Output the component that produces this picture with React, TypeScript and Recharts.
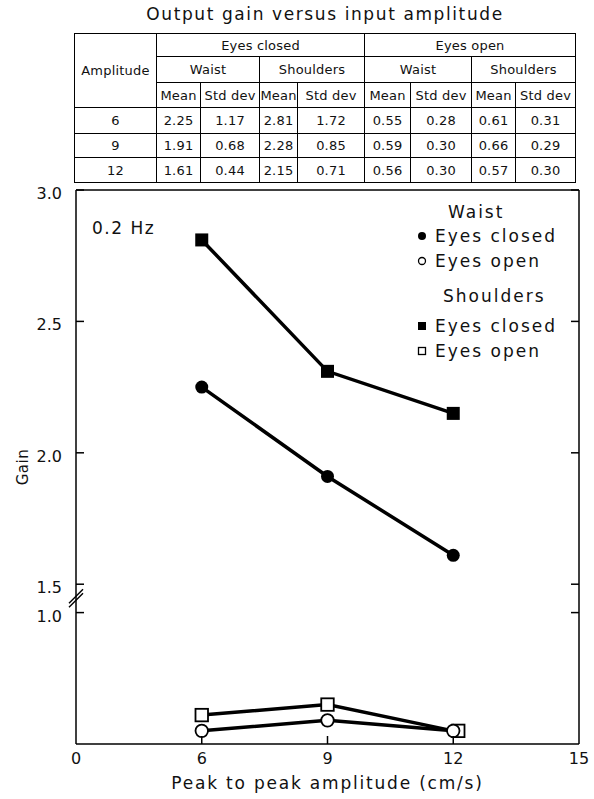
import { ComposedChart, Legend, Line, XAxis, YAxis } from 'recharts';

// amplitude (cm/s) ticks on the x axis; the figure spaces them evenly
const AMPLITUDE_TICKS = [0, 6, 9, 12, 15];
const AMPLITUDES = [6, 9, 12];

// plotted gains
const WAIST_CLOSED = [2.25, 1.91, 1.61];
const SHOULDERS_CLOSED = [2.81, 2.31, 2.15];
const WAIST_OPEN = [0.55, 0.59, 0.55];
const SHOULDERS_OPEN = [0.61, 0.65, 0.55];

const GAIN_TICKS = [3.0, 2.5, 2.0, 1.5, 1.0];
const GAIN_MIN = 0.5;
const GAIN_MAX = 3.0;

// table values, kept as printed
const TABLE_AMPLITUDES = ['6', '9', '12'];
const WAIST_CLOSED_MEAN = ['2.25', '1.91', '1.61'];
const WAIST_CLOSED_SD = ['1.17', '0.68', '0.44'];
const SHOULDERS_CLOSED_MEAN = ['2.81', '2.28', '2.15'];
const SHOULDERS_CLOSED_SD = ['1.72', '0.85', '0.71'];
const WAIST_OPEN_MEAN = ['0.55', '0.59', '0.56'];
const WAIST_OPEN_SD = ['0.28', '0.30', '0.30'];
const SHOULDERS_OPEN_MEAN = ['0.61', '0.66', '0.57'];
const SHOULDERS_OPEN_SD = ['0.31', '0.29', '0.30'];

// broken gain axis: 1.0 .. 1.5 is squeezed into a small gap
const BREAK_LOW = 1.0;
const BREAK_HIGH = 1.5;
const BREAK_GAP = 0.108;
const toAxis = (v: number) => (v >= BREAK_HIGH ? v - (BREAK_HIGH - BREAK_LOW) + BREAK_GAP : v);
const fromAxis = (u: number) =>
  u > BREAK_LOW + BREAK_GAP / 2 ? u + (BREAK_HIGH - BREAK_LOW) - BREAK_GAP : u;

const FONT = '"DejaVu Sans", sans-serif';
const INK = '#111';

type Shape = 'circle' | 'square';
type Series = {
  key: string;
  group: string;
  label: string;
  shape: Shape;
  filled: boolean;
  values: number[];
  dodgeFrom?: string;
};

const SERIES: Series[] = [
  { key: 'waistClosed', group: 'Waist', label: 'Eyes closed', shape: 'circle', filled: true, values: WAIST_CLOSED },
  { key: 'waistOpen', group: 'Waist', label: 'Eyes open', shape: 'circle', filled: false, values: WAIST_OPEN },
  { key: 'shouldersClosed', group: 'Shoulders', label: 'Eyes closed', shape: 'square', filled: true, values: SHOULDERS_CLOSED },
  {
    key: 'shouldersOpen',
    group: 'Shoulders',
    label: 'Eyes open',
    shape: 'square',
    filled: false,
    values: SHOULDERS_OPEN,
    dodgeFrom: 'waistOpen',
  },
];

const rows = AMPLITUDE_TICKS.map((amp) => {
  const i = AMPLITUDES.indexOf(amp);
  const row: Record<string, number | string | null> = { amp: String(amp) };
  for (const s of SERIES) row[s.key] = i >= 0 ? toAxis(s.values[i]) : null;
  return row;
});

function Marker({ shape, filled, cx, cy, size }: { shape: Shape; filled: boolean; cx: number; cy: number; size: number }) {
  const fill = filled ? '#000' : '#fff';
  const sw = filled ? 0 : size > 10 ? 1.8 : 1.3;
  if (shape === 'circle') return <circle cx={cx} cy={cy} r={size / 2} fill={fill} stroke="#000" strokeWidth={sw} />;
  return <rect x={cx - size / 2} y={cy - size / 2} width={size} height={size} fill={fill} stroke="#000" strokeWidth={sw} />;
}

function makeDot(s: Series) {
  return (p: any) => {
    const key = `${s.key}-${p.index}`;
    const v = p.payload?.[s.key];
    if (v == null || p.cx == null || p.cy == null) return <g key={key} />;
    // open square sits next to the open circle where they coincide
    const other = s.dodgeFrom ? p.payload?.[s.dodgeFrom] : null;
    const dx = other != null && Math.abs(v - other) < 0.02 ? 5 : 0;
    return (
      <g key={key}>
        <Marker shape={s.shape} filled={s.filled} cx={p.cx + dx} cy={p.cy} size={s.filled ? 13 : 12.5} />
      </g>
    );
  };
}

function LeftTick(props: any) {
  const { x, y, payload } = props;
  const value = fromAxis(payload.value);
  const isBreak = Math.abs(value - BREAK_HIGH) < 1e-6;
  return (
    <g>
      <line x1={x} y1={y} x2={x + 8} y2={y} stroke="#000" strokeWidth={1.5} />
      <text x={x - 14} y={y + 9} textAnchor="end" fontSize={16} fontFamily={FONT} fill={INK}>
        {value.toFixed(1)}
      </text>
      {isBreak && (
        <g stroke="#000" strokeWidth={1.5}>
          <line x1={x - 7} y1={y + 23} x2={x + 7} y2={y + 9} />
          <line x1={x - 7} y1={y + 19} x2={x + 7} y2={y + 5} />
        </g>
      )}
    </g>
  );
}

function RightTick(props: any) {
  const { x, y } = props;
  return <line x1={x} y1={y} x2={x - 8} y2={y} stroke="#000" strokeWidth={1.5} />;
}

function BottomTick(props: any) {
  const { x, y, payload } = props;
  const edge = payload.value === '0' || payload.value === '15';
  return (
    <g>
      {!edge && <line x1={x} y1={y} x2={x} y2={y - 8} stroke="#000" strokeWidth={1.5} />}
      <text x={x} y={y + 20} textAnchor="middle" fontSize={16} fontFamily={FONT} fill={INK}>
        {payload.value}
      </text>
    </g>
  );
}

const GROUPS = ['Waist', 'Shoulders'];

function LegendBox() {
  return (
    <div style={{ fontFamily: FONT, fontSize: 17, letterSpacing: 2, color: INK, width: 170 }}>
      {GROUPS.map((g, gi) => (
        <div key={g} style={{ marginTop: gi === 0 ? 0 : 10 }}>
          <div style={{ height: gi === 0 ? 24 : 30, lineHeight: '24px', paddingLeft: gi === 0 ? 31 : 26 }}>{g}</div>
          {SERIES.filter((s) => s.group === g).map((s, i) => (
            <div key={s.key} style={{ display: 'flex', alignItems: 'center', height: i === 0 ? 24 : 26, lineHeight: '24px' }}>
              <svg width={18} height={12} style={{ flex: 'none' }}>
                <Marker shape={s.shape} filled={s.filled} cx={5} cy={6} size={s.filled ? 8 : 7} />
              </svg>
              <span>{s.label}</span>
            </div>
          ))}
        </div>
      ))}
    </div>
  );
}

const cell: React.CSSProperties = {
  border: '1px solid #000',
  padding: 0,
  textAlign: 'center',
  verticalAlign: 'middle',
};

function GainTable() {
  const cols = [82, 44, 59, 38, 67, 46, 61, 44, 60];
  const data = [
    WAIST_CLOSED_MEAN,
    WAIST_CLOSED_SD,
    SHOULDERS_CLOSED_MEAN,
    SHOULDERS_CLOSED_SD,
    WAIST_OPEN_MEAN,
    WAIST_OPEN_SD,
    SHOULDERS_OPEN_MEAN,
    SHOULDERS_OPEN_SD,
  ];
  const rowH = [26, 24, 25];
  return (
    <table
      style={{
        position: 'absolute',
        left: 74,
        top: 33,
        width: 501,
        borderCollapse: 'collapse',
        tableLayout: 'fixed',
        fontFamily: FONT,
        fontSize: 13,
        letterSpacing: 0.2,
        color: INK,
        border: '1.5px solid #000',
      }}
    >
      <colgroup>
        {cols.map((w, i) => (
          <col key={i} style={{ width: w }} />
        ))}
      </colgroup>
      <tbody>
        <tr style={{ height: 23 }}>
          <td style={cell} rowSpan={3}>Amplitude</td>
          <td style={cell} colSpan={4}>Eyes closed</td>
          <td style={cell} colSpan={4}>Eyes open</td>
        </tr>
        <tr style={{ height: 26 }}>
          <td style={cell} colSpan={2}>Waist</td>
          <td style={cell} colSpan={2}>Shoulders</td>
          <td style={cell} colSpan={2}>Waist</td>
          <td style={cell} colSpan={2}>Shoulders</td>
        </tr>
        <tr style={{ height: 25 }}>
          {[0, 1, 2, 3].flatMap((k) => [
            <td key={`m${k}`} style={cell}>Mean</td>,
            <td key={`s${k}`} style={cell}>Std dev</td>,
          ])}
        </tr>
        {TABLE_AMPLITUDES.map((a, r) => (
          <tr key={a} style={{ height: rowH[r] }}>
            <td style={cell}>{a}</td>
            {data.map((col, c) => (
              <td key={c} style={cell}>{col[r]}</td>
            ))}
          </tr>
        ))}
      </tbody>
    </table>
  );
}

export default function App() {
  const gainDomain = [toAxis(GAIN_MIN), toAxis(GAIN_MAX)];
  const gainTicks = GAIN_TICKS.map(toAxis);
  const axisLine = { stroke: '#000', strokeWidth: 1.5 };

  return (
    <div style={{ position: 'absolute', left: 0, top: 0, width: 594, height: 799, background: '#fff', overflow: 'hidden' }}>
      <ComposedChart width={594} height={799} data={rows} margin={{ top: 189, right: 14, bottom: 0, left: 16 }}>
        <XAxis
          dataKey="amp"
          type="category"
          scale="point"
          padding={{ left: 0, right: 0 }}
          interval={0}
          height={55}
          axisLine={axisLine}
          tickLine={false}
          tickSize={0}
          tickMargin={0}
          tick={BottomTick}
          label={{
            value: 'Peak to peak amplitude (cm/s)',
            position: 'insideBottom',
            offset: 10,
            fontSize: 17,
            fontFamily: FONT,
            fill: INK,
            letterSpacing: 1.8,
          }}
        />
        <XAxis
          xAxisId="top"
          orientation="top"
          dataKey="amp"
          type="category"
          scale="point"
          padding={{ left: 0, right: 0 }}
          height={1}
          axisLine={axisLine}
          tickLine={false}
          tick={false}
        />
        <YAxis
          type="number"
          domain={gainDomain}
          allowDataOverflow
          ticks={gainTicks}
          interval={0}
          width={60}
          axisLine={axisLine}
          tickLine={false}
          tickSize={0}
          tickMargin={0}
          tick={LeftTick}
          label={{
            value: 'Gain',
            angle: -90,
            position: 'insideLeft',
            offset: 7,
            fontSize: 15,
            fontFamily: FONT,
            fill: INK,
            letterSpacing: 0.5,
            style: { textAnchor: 'middle' },
          }}
        />
        <YAxis
          yAxisId="right"
          orientation="right"
          type="number"
          domain={gainDomain}
          allowDataOverflow
          ticks={gainTicks}
          interval={0}
          width={1}
          axisLine={axisLine}
          tickLine={false}
          tickSize={0}
          tickMargin={0}
          tick={RightTick}
        />
        <Legend
          layout="horizontal"
          verticalAlign="middle"
          align="center"
          content={() => <LegendBox />}
          wrapperStyle={{ left: 417, top: 200, width: 170 }}
        />
        {/* invisible copy on the top/right axes so the frame axes get a scale */}
        <Line
          xAxisId="top"
          yAxisId="right"
          dataKey="waistClosed"
          stroke="none"
          dot={false}
          activeDot={false}
          legendType="none"
          isAnimationActive={false}
        />
        {[SERIES[3], SERIES[1], SERIES[2], SERIES[0]].map((s) => (
          <Line
            key={s.key}
            dataKey={s.key}
            name={`${s.group} ${s.label}`}
            type="linear"
            stroke="#000"
            strokeWidth={3.5}
            dot={makeDot(s)}
            activeDot={false}
            isAnimationActive={false}
          />
        ))}
      </ComposedChart>

      <div
        style={{
          position: 'absolute',
          left: 0,
          top: 4,
          width: 650,
          textAlign: 'center',
          fontFamily: FONT,
          fontSize: 17,
          lineHeight: '20px',
          letterSpacing: 1.6,
          color: INK,
        }}
      >
        Output gain versus input amplitude
      </div>
      <GainTable />
      <div
        style={{
          position: 'absolute',
          left: 92,
          top: 218,
          fontFamily: FONT,
          fontSize: 17,
          lineHeight: '20px',
          letterSpacing: 1.5,
          color: INK,
        }}
      >
        0.2 Hz
      </div>
    </div>
  );
}
